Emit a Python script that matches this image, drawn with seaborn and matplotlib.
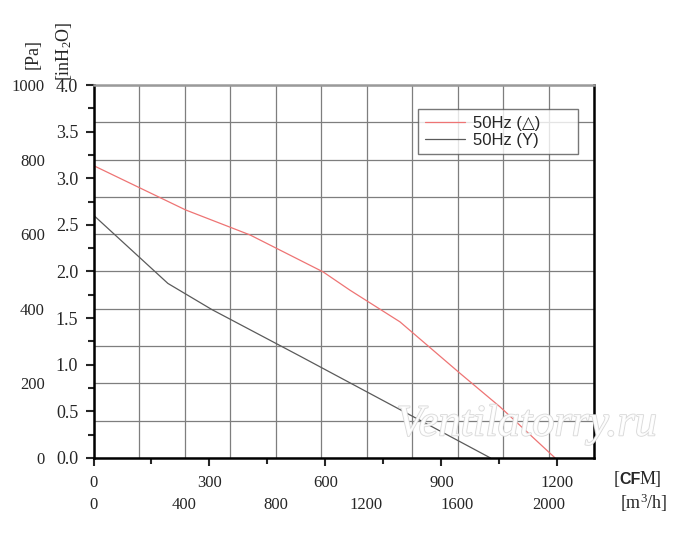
import matplotlib
matplotlib.use("Agg")
import numpy as np
import pandas as pd
import seaborn as sns
import matplotlib.pyplot as plt
import matplotlib.patheffects as pe
from matplotlib.ticker import MultipleLocator

# Airflow in m3/h, pressure in Pa
flow_delta = [0, 405, 688, 1009, 1127, 1347, 1611, 1787, 2029]
pres_delta = [784, 665, 598, 499, 450, 365, 227, 137, 0]
flow_y = [0, 327, 520, 908, 1745]
pres_y = [651, 468, 398, 273, 0]
series_names = ["50Hz (\u25b3)", "50Hz (Y)"]

cfm_ticks = [0, 300, 600, 900, 1200]
m3h_ticks = [0, 400, 800, 1200, 1600, 2000]
pa_ticks = [0, 200, 400, 600, 800, 1000]

CFM = 1.699  # m3/h per CFM
INH2O = 250.0  # Pa per inH2O (as on the chart)

df = pd.concat([
    pd.DataFrame({"flow": flow_delta, "pres": pres_delta, "curve": series_names[0]}),
    pd.DataFrame({"flow": flow_y, "pres": pres_y, "curve": series_names[1]}),
])

sns.set_style("white")
plt.rcParams["font.family"] = ["Liberation Serif", "DejaVu Serif"]
plt.rcParams["mathtext.default"] = "regular"

fig = plt.figure(figsize=(7, 5.46), dpi=100)
ax = fig.add_axes([0.1336, 0.1612, 0.7150, 0.6831])

sns.lineplot(data=df, x="flow", y="pres", hue="curve", estimator=None, sort=False,
             palette=["#ee7474", "#5a5a5a"], linewidth=0.9, ax=ax)

ax.set_xlim(0, 2200)
ax.set_ylim(0, 1000)
ax.set_xticks(np.arange(0, 2201, 200))
ax.set_yticks(np.arange(0, 1001, 100))
ax.tick_params(length=0, labelbottom=False, labelleft=False)
ax.grid(True, color="#7e7e7e", linewidth=0.9)
ax.set_xlabel("")
ax.set_ylabel("")
for side in ["left", "bottom", "right"]:
    ax.spines[side].set_color("black")
    ax.spines[side].set_linewidth(1.8)
ax.spines["top"].set_color("#9a9a9a")
ax.spines["top"].set_linewidth(1.8)

# CFM scale
sx = ax.secondary_xaxis("bottom", functions=(lambda v: v / CFM, lambda v: v * CFM))
sx.set_xticks(cfm_ticks)
sx.xaxis.set_minor_locator(MultipleLocator(150))
sx.tick_params(which="major", length=6, width=1.5, pad=6, labelsize=12)
sx.tick_params(which="minor", length=4, width=1.5)
sx.spines["bottom"].set_visible(False)

# m3/h scale
sx2 = ax.secondary_xaxis("bottom")
sx2.set_xticks(m3h_ticks)
sx2.tick_params(length=0, pad=28, labelsize=12)
sx2.spines["bottom"].set_visible(False)

# inH2O scale
sy = ax.secondary_yaxis("left", functions=(lambda v: v / INH2O, lambda v: v * INH2O))
sy.set_yticks(np.arange(0, 4.01, 0.5))
sy.set_yticklabels([f"{v:.1f}" for v in np.arange(0, 4.01, 0.5)])
sy.yaxis.set_minor_locator(MultipleLocator(0.25))
sy.tick_params(which="major", length=6, width=1.5, pad=5, labelsize=13)
sy.tick_params(which="minor", length=4, width=1.5)
sy.spines["left"].set_visible(False)

# Pa scale
sy2 = ax.secondary_yaxis("left")
sy2.set_yticks(pa_ticks)
sy2.tick_params(length=0, pad=35, labelsize=12)
sy2.spines["left"].set_visible(False)

fig.text(0.047, 0.902, "[Pa]", rotation=90, ha="center", va="center", fontsize=13)
fig.text(0.092, 0.907, "[inH$_2$O]", rotation=90, ha="center", va="center", fontsize=13)
fig.text(0.877, 0.121, "[", ha="left", va="center", fontsize=13)
fig.text(0.885, 0.121, "CF", ha="left", va="center", fontsize=11.5,
         family=["Liberation Sans", "DejaVu Sans"], weight="bold")
fig.text(0.913, 0.121, "M]", ha="left", va="center", fontsize=13)
fig.text(0.885, 0.080, "[m$^3$/h]", ha="left", va="center", fontsize=13)

ax.text(0.866, 0.09, "Ventilatorry.ru", transform=ax.transAxes, ha="center", va="center",
        fontsize=32, style="italic", color="white", alpha=0.9, clip_on=False,
        path_effects=[pe.withStroke(linewidth=1.2, foreground="#d4d4d4")])

leg = ax.legend(loc="upper left", bbox_to_anchor=(0.648, 0.815, 0.32, 0.12), mode="expand",
                frameon=True, fancybox=False,
                prop={"family": ["Liberation Sans", "DejaVu Sans"], "size": 12},
                handlelength=2.4, borderpad=0.4, labelspacing=0.1, handletextpad=0.5,
                borderaxespad=0)
leg.get_frame().set_edgecolor("#555555")
leg.get_frame().set_linewidth(1.0)

fig.savefig("out.png", dpi=100)
